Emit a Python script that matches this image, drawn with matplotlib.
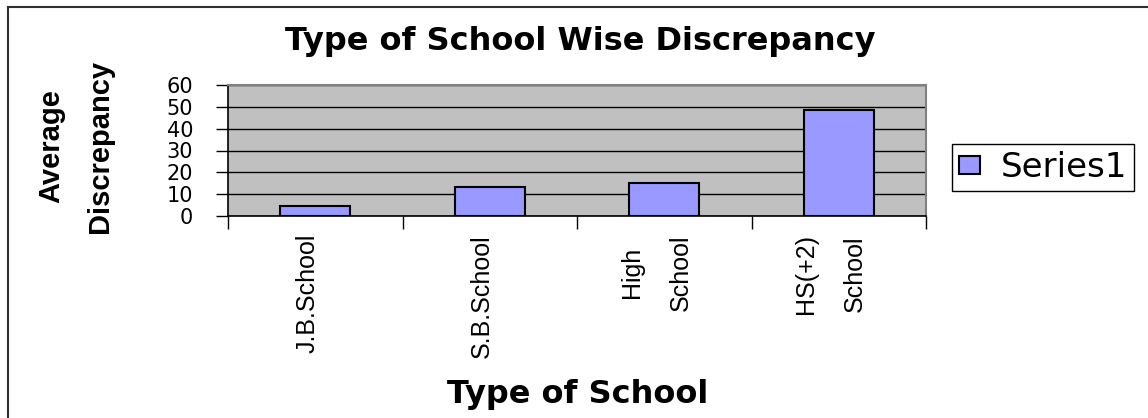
import matplotlib
matplotlib.use("Agg")
import matplotlib.pyplot as plt
import matplotlib.transforms as mtransforms
from matplotlib.lines import Line2D

# data
schools = ["J.B.School", "S.B.School", "High\nSchool", "HS(+2)\nSchool"]
discrepancy = [4.6, 13.3, 15.1, 48.4]
yticks = [0, 10, 20, 30, 40, 50, 60]

W, H = 1148, 418
fig = plt.figure(figsize=(W / 100, H / 100), dpi=100)
fig.patch.set_facecolor("white")

# plot area in pixel coords of the reference
left, right, top, bottom = 228, 926, 85, 216
ax = fig.add_axes([left / W, 1 - bottom / H, (right - left) / W, (bottom - top) / H])
ax.set_facecolor("#C0C0C0")

x = list(range(len(schools)))
bars = ax.bar(x, discrepancy, width=0.40, color="#9999FF", edgecolor="black",
              linewidth=1.5, zorder=3, label="Series1")

ax.set_xlim(-0.5, len(schools) - 0.5)
ax.set_ylim(0, 60)
ax.set_yticks(yticks)
ax.set_yticklabels([str(v) for v in yticks], fontsize=15, family="DejaVu Sans")
ax.yaxis.grid(True, color="black", linewidth=1, zorder=1)
ax.set_axisbelow(True)
ax.tick_params(axis="y", direction="out", length=9, width=1, pad=16)

# category ticks sit on the boundaries, labels in the middle
ax.set_xticks([i - 0.5 for i in range(len(schools) + 1)])
ax.set_xticklabels([])
ax.set_xticks(x, minor=True)
ax.set_xticklabels(schools, minor=True, rotation=90, va="top", ha="center",
                   multialignment="center", fontsize=18, family="Liberation Sans",
                   linespacing=2.3)
ax.tick_params(axis="x", which="major", direction="out", length=9, width=1)
ax.tick_params(axis="x", which="minor", length=0, pad=13)
shift = mtransforms.ScaledTranslation(-8 / 100, 0, fig.dpi_scale_trans)
for lbl in ax.get_xticklabels(minor=True):
    lbl.set_transform(lbl.get_transform() + shift)

for side in ["left", "bottom"]:
    ax.spines[side].set_color("black")
    ax.spines[side].set_linewidth(1.2)
for side in ["top", "right"]:
    ax.spines[side].set_color("#808080")
    ax.spines[side].set_linewidth(1.5)

# titles
fig.text(580 / W, 1 - 50 / H, "Type of School Wise Discrepancy", ha="center",
         va="baseline", fontsize=23, fontweight="bold", family="DejaVu Sans")
fig.text(578 / W, 1 - 403 / H, "Type of School", ha="center", va="baseline",
         fontsize=23, fontweight="bold", family="DejaVu Sans")
fig.text(76 / W, 1 - 146 / H, "Average\nDiscrepancy", rotation=90, ha="center",
         va="center", multialignment="center", fontsize=21, fontweight="bold",
         family="Liberation Sans", linespacing=1.95)

leg = fig.legend(handles=[bars], labels=["Series1"], loc="center left",
                 bbox_to_anchor=(952 / W, 1 - 167.5 / H), fancybox=False,
                 framealpha=1, edgecolor="black", borderaxespad=0,
                 borderpad=0.2, handlelength=0.62, handleheight=0.45,
                 handletextpad=0.6, prop={"family": "DejaVu Sans", "size": 24.5})
leg.get_frame().set_linewidth(1)

# chart border (only left and top visible in the reference)
fig.add_artist(Line2D([8 / W, 8 / W], [0, 1 - 7 / H], color="#303030", linewidth=1.5))
fig.add_artist(Line2D([8 / W, 1], [1 - 7 / H, 1 - 7 / H], color="#303030", linewidth=1.5))

fig.savefig("out.png", dpi=100)
